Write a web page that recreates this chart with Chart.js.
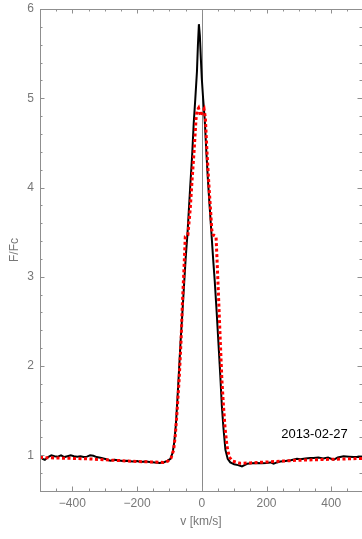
<!DOCTYPE html>
<html>
<head>
<meta charset="utf-8">
<script src="https://cdn.jsdelivr.net/npm/chart.js@4/dist/chart.umd.min.js"></script>
<style>
  html, body { margin: 0; padding: 0; background: #fff; }
  #wrap { width: 362px; height: 539px; }
</style>
</head>
<body>
<div id="wrap"><canvas id="c"></canvas></div>
<script>
// observed profile (black)
const obsV = [-500, -492, -485, -475, -465, -455, -445, -435, -425, -415, -405, -395, -385, -375, -365, -355, -345, -335, -325, -310,
  -295, -283, -270, -260, -245, -230, -215, -200, -190, -175, -160, -145, -130, -115, -105, -97, -90, -85, -80, -75,
  -70, -66, -60, -55, -50, -44, -40, -36, -30, -25, -20, -15, -12, -9, -6, -3, 0, 4, 9, 14,
  19, 24, 29, 35, 40, 46, 52, 57, 62, 67, 73, 80, 88, 100, 112, 124, 132, 140, 155, 170,
  185, 200, 212, 222, 232, 243, 258, 275, 294, 305, 320, 335, 345, 360, 375, 390, 407, 420, 438, 455, 470, 490, 500];
const obsF = [0.99, 0.96, 0.95, 0.98, 1.00, 0.99, 0.985, 1.00, 0.98, 0.99, 1.00, 0.99, 0.985, 0.99, 0.98, 0.985, 1.00, 0.995, 0.98, 0.97,
  0.955, 0.94, 0.95, 0.945, 0.935, 0.94, 0.93, 0.935, 0.925, 0.93, 0.925, 0.92, 0.915, 0.925, 0.94, 0.96, 1.03, 1.15, 1.35, 1.65,
  1.98, 2.25, 2.6, 2.9, 3.2, 3.5, 3.75, 4.0, 4.35, 4.72, 5.0, 5.3, 5.6, 5.83, 5.7, 5.45, 5.22, 5.0, 4.76, 4.4,
  4.08, 3.8, 3.53, 3.2, 2.95, 2.6, 2.22, 1.9, 1.55, 1.3, 1.06, 0.96, 0.92, 0.9, 0.89, 0.875, 0.89, 0.905, 0.91, 0.915,
  0.91, 0.915, 0.92, 0.905, 0.92, 0.93, 0.935, 0.945, 0.96, 0.955, 0.965, 0.97, 0.97, 0.975, 0.965, 0.975, 0.95, 0.975, 0.99, 0.985, 0.98, 0.98, 0.985];

// model profile (red dotted)
const modV = [-500, -450, -400, -350, -300, -250, -200, -150, -118, -105, -95, -87, -82, -77, -70, -64, -60, -55, -51, -43,
  -41, -36, -30, -24, -18, -15, -10, -4, 2, 7, 11, 16, 21, 27, 31, 35, 44, 47, 52, 57,
  62, 67, 72, 78, 85, 95, 119, 150, 200, 250, 300, 350, 400, 450, 500];
const modF = [0.975, 0.97, 0.965, 0.96, 0.95, 0.94, 0.93, 0.925, 0.92, 0.935, 0.97, 1.06, 1.22, 1.46, 1.85, 2.29, 2.7, 3.1, 3.45, 3.47,
  3.55, 3.75, 4.085, 4.4, 4.76, 4.86, 4.89, 4.80, 4.85, 4.88, 4.78, 4.4, 4.085, 3.75, 3.52, 3.47, 3.45, 3.2, 2.75, 2.29,
  1.85, 1.55, 1.3, 1.1, 0.98, 0.935, 0.91, 0.915, 0.925, 0.935, 0.945, 0.95, 0.955, 0.96, 0.965];

const xMajor = [-400, -200, 0, 200, 400];
const yMajor = [1, 2, 3, 4, 5, 6];
const dateLabel = '2013-02-27';

const toPts = (xs, ys) => xs.map((x, i) => ({ x: x, y: ys[i] }));

const frameColor = '#8f8f8f';

const framePlugin = {
  id: 'frame',
  beforeDatasetsDraw(chart) {
    const { ctx, chartArea: a, scales } = chart;
    const x0 = scales.x.getPixelForValue(0);
    ctx.save();
    ctx.strokeStyle = '#8a8a8a';
    ctx.lineWidth = 1;
    ctx.beginPath();
    ctx.moveTo(Math.round(x0) + 0.5, a.top);
    ctx.lineTo(Math.round(x0) + 0.5, a.bottom);
    ctx.stroke();
    ctx.restore();
  },
  afterDatasetsDraw(chart) {
    const { ctx, chartArea: a, scales } = chart;
    const xs = scales.x, ys = scales.y;
    ctx.save();
    ctx.strokeStyle = frameColor;
    ctx.lineWidth = 1;
    ctx.beginPath();
    ctx.rect(a.left + 0.5, a.top + 0.5, a.right - a.left, a.bottom - a.top);
    ctx.stroke();

    ctx.beginPath();
    // x ticks, every 50, major at labelled values
    for (let v = xs.min; v <= xs.max; v += 50) {
      const px = Math.round(xs.getPixelForValue(v)) + 0.5;
      const len = xMajor.includes(v) ? 4.5 : 2.5;
      ctx.moveTo(px, a.bottom); ctx.lineTo(px, a.bottom - len);
      ctx.moveTo(px, a.top); ctx.lineTo(px, a.top + len);
    }
    // y ticks, every 0.2, major at integers
    for (let k = 0; ys.min + k * 0.2 <= ys.max + 1e-9; k++) {
      const v = +(ys.min + k * 0.2).toFixed(2);
      const py = Math.round(ys.getPixelForValue(v)) + 0.5;
      const len = yMajor.includes(v) ? 4.5 : 2.5;
      ctx.moveTo(a.left, py); ctx.lineTo(a.left + len, py);
      ctx.moveTo(a.right, py); ctx.lineTo(a.right - len, py);
    }
    ctx.stroke();

    ctx.fillStyle = '#000';
    ctx.font = '13px "Liberation Sans", Arial, sans-serif';
    ctx.textAlign = 'center';
    ctx.textBaseline = 'middle';
    ctx.fillText(dateLabel, xs.getPixelForValue(348), ys.getPixelForValue(1.23));
    ctx.restore();
  }
};

new Chart(document.getElementById('c'), {
  type: 'line',
  data: {
    datasets: [
      {
        label: 'model',
        data: toPts(modV, modF),
        borderColor: '#ff0000',
        borderWidth: 3,
        borderDash: [3, 2.5],
        pointRadius: 0,
        tension: 0,
        fill: false
      },
      {
        label: 'observed',
        data: toPts(obsV, obsF),
        borderColor: '#000000',
        borderWidth: 2,
        pointRadius: 0,
        tension: 0,
        fill: false
      }
    ]
  },
  options: {
    responsive: true,
    maintainAspectRatio: false,
    animation: false,
    layout: { padding: { top: 9, right: 0, left: 0, bottom: 10 } },
    plugins: { legend: { display: false }, tooltip: { enabled: false } },
    scales: {
      x: {
        type: 'linear',
        min: -500,
        max: 495,
        grid: { display: false, drawTicks: false },
        border: { display: false },
        afterBuildTicks: (s) => { s.ticks = xMajor.map(v => ({ value: v })); },
        afterFit: (s) => { s.height = 38; s.paddingLeft = 0; s.paddingRight = 0; },
        ticks: {
          color: '#777',
          font: { family: '"Liberation Sans", Arial, sans-serif', size: 12 },
          padding: 5,
          maxRotation: 0,
          callback: (v) => (v < 0 ? '\u2212' + Math.abs(v) : String(v))
        },
        title: {
          display: true,
          text: 'v [km/s]',
          color: '#777',
          font: { family: '"Liberation Sans", Arial, sans-serif', size: 12 },
          padding: { top: 3, bottom: 0 }
        }
      },
      y: {
        min: 0.6,
        max: 6,
        grid: { display: false, drawTicks: false },
        border: { display: false },
        afterBuildTicks: (s) => { s.ticks = yMajor.map(v => ({ value: v })); },
        afterFit: (s) => { s.width = 40; s.paddingTop = 0; s.paddingBottom = 0; },
        ticks: {
          color: '#777',
          font: { family: '"Liberation Sans", Arial, sans-serif', size: 12 },
          padding: 6
        },
        title: {
          display: true,
          text: 'F/Fc',
          color: '#777',
          font: { family: '"Liberation Sans", Arial, sans-serif', size: 12 },
          padding: { top: 7, bottom: 0 }
        }
      }
    }
  },
  plugins: [framePlugin]
});
</script>
</body>
</html>
